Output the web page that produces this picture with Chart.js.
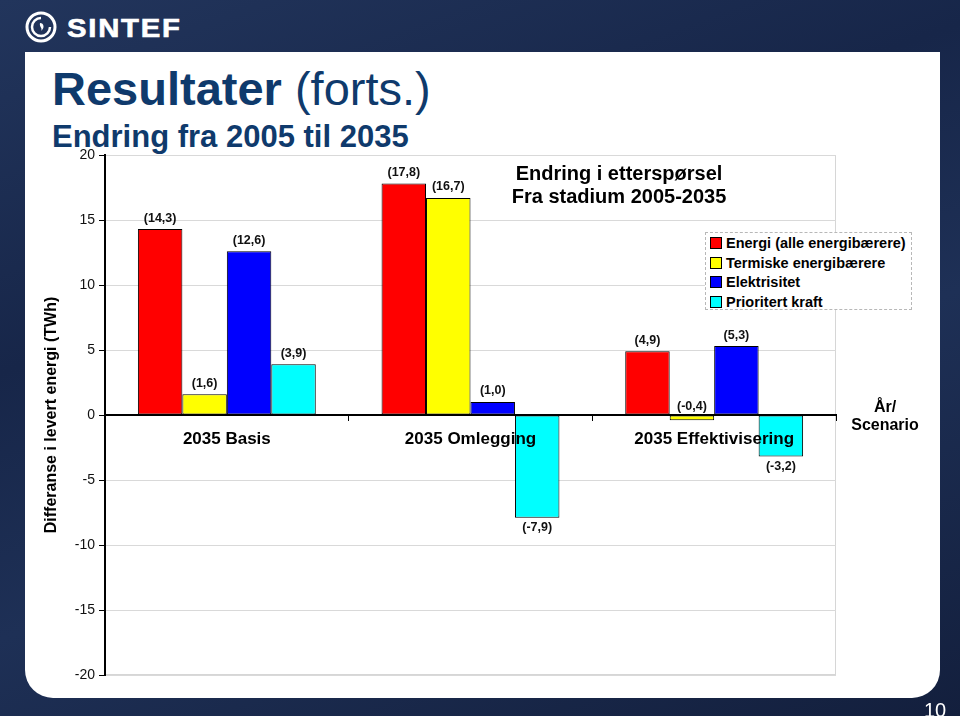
<!DOCTYPE html>
<html>
<head>
<meta charset="utf-8">
<script src="https://cdn.jsdelivr.net/npm/chart.js@4.4.1/dist/chart.umd.min.js"></script>
<style>
  html, body { margin: 0; padding: 0; }
  body {
    width: 960px; height: 716px; position: relative; overflow: hidden;
    font-family: "Liberation Sans", Arial, sans-serif;
    background: linear-gradient(160deg, #22355c 0%, #172649 35%, #1e3056 60%, #131f3d 100%);
  }
  .panel {
    position: absolute; left: 25px; top: 52px; width: 915px; height: 646px;
    background: #fff; border-radius: 0 0 28px 28px;
  }
  .logo { position: absolute; left: 25px; top: 11px; }
  .brand {
    position: absolute; left: 67px; top: 16px; color: #fff;
    font-size: 25px; line-height: 25px; font-weight: 900; letter-spacing: 1.5px;
    transform: scaleX(1.17); transform-origin: left;
    -webkit-text-stroke: 0.6px #fff;
  }
  .title {
    position: absolute; left: 52px; top: 65px; color: #0f3a6c;
    font-size: 47px; line-height: 47px; white-space: nowrap;
  }
  .title b { font-weight: bold; }
  .subtitle {
    position: absolute; left: 52px; top: 121px; color: #0f3a6c;
    font-size: 31px; line-height: 31px; font-weight: bold; white-space: nowrap;
  }
  canvas { position: absolute; left: 0; top: 0; }
  .ctitle {
    position: absolute; left: 469px; top: 162px; width: 300px; text-align: center;
    font-size: 20px; line-height: 23px; font-weight: bold; color: #000;
  }
  .legend {
    position: absolute; left: 705px; top: 232px; width: 207px; height: 78px;
    border: 1px dashed #b8b8b8; background: #fff; box-sizing: border-box;
    padding-top: 1px;
  }
  .legend div {
    height: 19.5px; line-height: 19.5px; font-size: 14.5px; font-weight: bold;
    white-space: nowrap; color: #000;
  }
  .legend span {
    display: inline-block; width: 10px; height: 10px; border: 1px solid #000;
    margin: 0 4px 0 4px; vertical-align: -1px;
  }
  .axisname {
    position: absolute; left: 835px; top: 398px; width: 100px; text-align: center;
    font-size: 16px; line-height: 18px; font-weight: bold; color: #000;
  }
  .pageno {
    position: absolute; left: 924px; top: 700px; color: #fff;
    font-size: 20px; line-height: 20px;
  }
</style>
</head>
<body>
<div class="panel"></div>
<svg class="logo" width="34" height="34" viewBox="0 0 34 34">
  <circle cx="16" cy="16" r="14" fill="none" stroke="#fff" stroke-width="3"/>
  <path d="M16 7 A9 9 0 1 0 25 16" fill="none" stroke="#fff" stroke-width="2.5"/>
  <path d="M15 12 C19 12 20 17 16 20 C18 17 14 16 15 12 Z" fill="#fff"/>
</svg>
<div class="brand">SINTEF</div>
<div class="title"><b>Resultater</b> (forts.)</div>
<div class="subtitle">Endring fra 2005 til 2035</div>
<canvas id="chart" width="960" height="716"></canvas>
<div class="ctitle">Endring i etterspørsel<br>Fra stadium 2005-2035</div>
<div class="legend" id="legend"></div>
<div class="axisname">År/<br>Scenario</div>
<div class="pageno">10</div>

<script>
// Data
const categories = ["2035 Basis", "2035 Omlegging", "2035 Effektivisering"];
const seriesNames = ["Energi (alle energibærere)", "Termiske energibærere", "Elektrisitet", "Prioritert kraft"];
const energi = [14.3, 17.8, 4.9];
const termiske = [1.6, 16.7, -0.4];
const elektrisitet = [12.6, 1.0, 5.3];
const prioritert = [3.9, -7.9, -3.2];
const yMin = -20, yMax = 20, yStep = 5;

const colors = ["#ff0000", "#ffff00", "#0000ff", "#00ffff"];
const series = [energi, termiske, elektrisitet, prioritert];

Chart.defaults.font.family = "'Liberation Sans', Arial, sans-serif";

// legend (sits over the plot area, like the original)
let legend = document.getElementById("legend");
seriesNames.forEach((name, i) => {
  let row = document.createElement("div");
  row.innerHTML = '<span style="background:' + colors[i] + '"></span>' + name;
  legend.appendChild(row);
});

function fmt(v) {
  return "(" + v.toFixed(1).replace(".", ",") + ")";
}

// light frame around the plot area
const frame = {
  id: "frame",
  beforeDraw(chart) {
    const {ctx, chartArea: a} = chart;
    ctx.save();
    ctx.strokeStyle = "#d6d6d6";
    ctx.lineWidth = 1;
    ctx.strokeRect(a.left + 0.5, a.top + 0.5, a.right - a.left - 1, a.bottom - a.top - 1);
    ctx.restore();
  }
};

// value labels "(14,3)" at the bar ends
const valueLabels = {
  id: "valueLabels",
  afterDraw(chart) {
    const ctx = chart.ctx;
    ctx.save();
    ctx.font = "bold 12.5px 'Liberation Sans', Arial, sans-serif";
    ctx.fillStyle = "#111";
    ctx.textAlign = "center";
    ctx.textBaseline = "middle";
    chart.data.datasets.forEach((ds, i) => {
      chart.getDatasetMeta(i).data.forEach((bar, j) => {
        const v = ds.data[j];
        const h = Math.abs(bar.base - bar.y);
        let y;
        if (v >= 0) y = bar.y - 11;
        else if (h > 20) y = bar.y + 10;
        else y = bar.base - 9;
        ctx.fillText(fmt(v), bar.x, y);
      });
    });
    ctx.restore();
  }
};

new Chart(document.getElementById("chart"), {
  type: "bar",
  data: {
    labels: categories,
    datasets: series.map((d, i) => ({
      label: seriesNames[i],
      data: d,
      backgroundColor: colors[i],
      borderColor: "#000",
      borderWidth: 1,
      borderSkipped: false,
      categoryPercentage: 0.73,
      barPercentage: 1.0
    }))
  },
  options: {
    responsive: false,
    animation: false,
    layout: { padding: { left: 38, top: 155, right: 124, bottom: 41 } },
    plugins: {
      legend: { display: false },
      tooltip: { enabled: false }
    },
    scales: {
      x: {
        position: { y: 0 },
        grid: { drawOnChartArea: false, offset: true, color: "#000", tickLength: 5 },
        border: { color: "#000", width: 2, z: 1 },
        ticks: {
          z: 1,
          color: "#000", padding: 9, maxRotation: 0, autoSkip: false,
          font: { size: 17, weight: "bold" }
        }
      },
      y: {
        min: yMin,
        max: yMax,
        ticks: { stepSize: yStep, color: "#111", padding: 4, font: { size: 14 } },
        grid: { color: "#d9d9d9", tickColor: "#000", tickLength: 6 },
        border: { color: "#000", width: 2 },
        title: {
          display: true,
          text: "Differanse i levert energi (TWh)",
          color: "#000",
          font: { size: 16, weight: "bold" },
          padding: { top: 4, bottom: 4 }
        },
        afterFit(scale) { scale.width = 67; }
      }
    }
  },
  plugins: [frame, valueLabels]
});
</script>
</body>
</html>
